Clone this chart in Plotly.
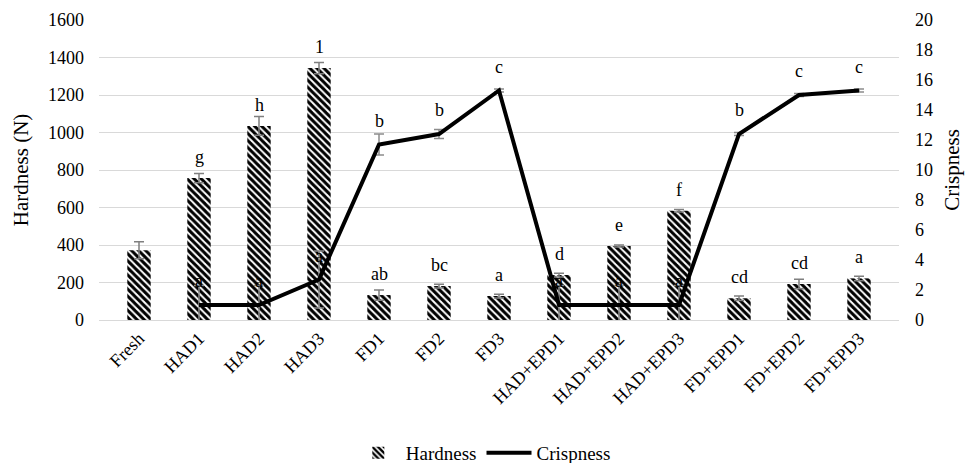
import plotly.graph_objects as go

categories = ["Fresh", "HAD1", "HAD2", "HAD3", "FD1", "FD2", "FD3",
              "HAD+EPD1", "HAD+EPD2", "HAD+EPD3", "FD+EPD1", "FD+EPD2", "FD+EPD3"]
hardness = [372, 757, 1035, 1344, 133, 181, 128, 240, 395, 583, 116, 192, 222]
hardness_err = [45, 25, 50, 30, 27, 10, 10, 10, 5, 7, 12, 25, 12]
hardness_labels = ["", "g", "h", "1", "ab", "bc", "a", "d", "e", "f", "cd", "cd", "a"]
crispness = [None, 1.0, 1.0, 2.7, 11.7, 12.4, 15.3, 1.0, 1.0, 1.0, 12.4, 15.0, 15.3]
crispness_err = [None, 1.3, 1.3, 1.9, 0.7, 0.3, 0.1, 1.3, 1.3, 1.3, 0.1, 0.1, 0.1]
crispness_labels = ["", "a", "a", "a", "b", "b", "c", "a", "a", "a", "b", "c", "c"]

FONT = "Liberation Serif, serif"

fig = go.Figure()
fig.add_trace(go.Bar(
    x=categories, y=hardness, name="Hardness",
    width=0.39,
    marker=dict(color="white", line=dict(width=0),
                pattern=dict(shape="\\", fgcolor="black", bgcolor="white",
                             fgopacity=1, size=5, solidity=0.6)),
    error_y=dict(type="data", array=hardness_err, color="#7f7f7f",
                 thickness=1.5, width=5),
))
fig.add_trace(go.Scatter(
    x=categories, y=crispness, name="Crispness", yaxis="y2",
    mode="lines", line=dict(color="black", width=4),
    error_y=dict(type="data", array=crispness_err, color="#8c8c8c",
                 thickness=1.5, width=5),
))

annotations = []
for c, v, t in zip(categories, hardness, hardness_labels):
    if t:
        annotations.append(dict(x=c, y=v, xref="x", yref="y", text=t,
                                showarrow=False, yanchor="bottom", yshift=9,
                                font=dict(family=FONT, size=18, color="black")))
for c, v, t in zip(categories, crispness, crispness_labels):
    if t and v is not None:
        annotations.append(dict(x=c, y=v, xref="x", yref="y2", text=t,
                                showarrow=False, yanchor="bottom", yshift=12,
                                font=dict(family=FONT, size=18, color="black")))

fig.update_layout(
    width=970, height=455,
    margin=dict(l=91, r=79, t=12, b=143, autoexpand=False),
    paper_bgcolor="white", plot_bgcolor="white",
    font=dict(family=FONT, size=18, color="black"),
    showlegend=True,
    legend=dict(orientation="h", x=0.49, xref="container", xanchor="center",
                y=0.022, yref="container", yanchor="middle", itemwidth=45,
                tracegroupgap=0,
                font=dict(family=FONT, size=19, color="black")),
    xaxis=dict(tickangle=-45, showgrid=False, showline=True, linecolor="#d9d9d9",
               linewidth=1, ticks="", automargin=False,
               tickfont=dict(family=FONT, size=18, color="black")),
    yaxis=dict(range=[0, 1600], dtick=200, showgrid=True, gridcolor="#d9d9d9",
               zeroline=False, ticks="", automargin=False, ticklabelstandoff=14,
               tickfont=dict(family=FONT, size=18, color="black"),
               title=dict(text="Hardness (N)", font=dict(family=FONT, size=21, color="black"),
                          standoff=13)),
    yaxis2=dict(range=[0, 20], dtick=2, overlaying="y", side="right", showgrid=False,
                zeroline=False, ticks="", automargin=False, ticklabelstandoff=15,
                tickfont=dict(family=FONT, size=18, color="black"),
                title=dict(text="Crispness", font=dict(family=FONT, size=21, color="black"),
                           standoff=12)),
    annotations=annotations,
)

fig.write_html("out.html")
